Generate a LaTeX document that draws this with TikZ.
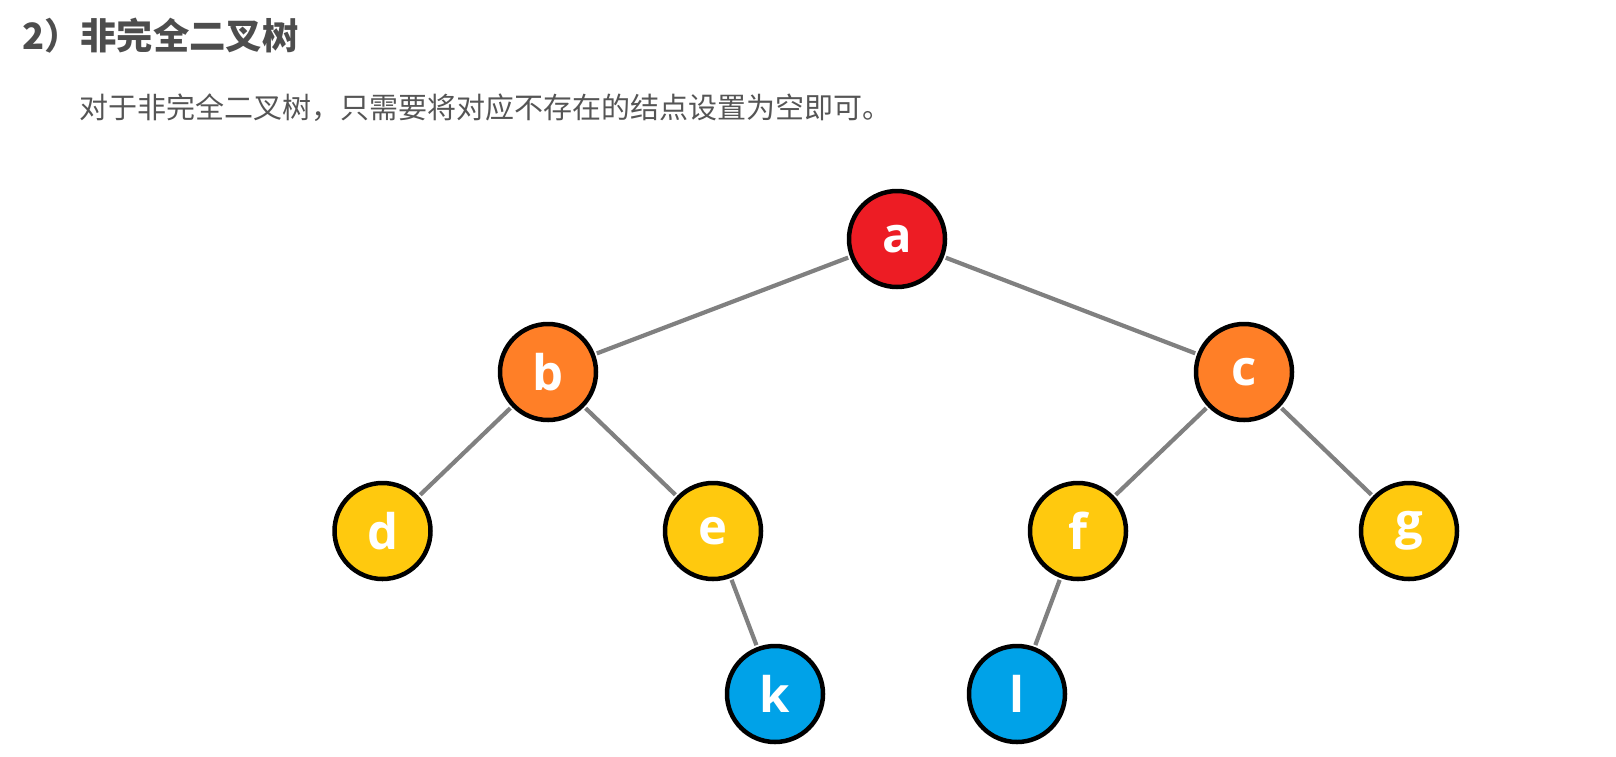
\documentclass[tikz,border=0pt]{standalone}
\usepackage{fontspec}
\setmainfont{Open Sans}
\newfontfamily\cjk{Noto Sans CJK SC}
\definecolor{tred}{HTML}{ED1C24}
\definecolor{torange}{HTML}{FF7F27}
\definecolor{tyellow}{HTML}{FFC90E}
\definecolor{tblue}{HTML}{00A2E8}
\definecolor{tedge}{HTML}{808080}
\definecolor{ttitle}{HTML}{4D4D4D}
\definecolor{tbody}{HTML}{555555}
\tikzset{
  tnode/.style={circle, draw=black, line width=4.5pt, minimum size=96pt, inner sep=0pt,
    text=white, font=\fontsize{49}{49}\selectfont\bfseries},
  tedgeline/.style={draw=tedge, line width=4.2pt},
}
\begin{document}
\begin{tikzpicture}[x=1pt,y=-1pt]
\useasboundingbox (0,0) rectangle (1616,756);
\fill[white] (0,0) rectangle (1616,756);
\node[anchor=west, inner sep=0pt, text=ttitle, font=\cjk\fontsize{36.3}{36.3}\selectfont\bfseries] (title) at (22,36) {2）非完全二叉树};
\node[anchor=west, inner sep=0pt, text=tbody, font=\cjk\fontsize{29}{29}\selectfont] (body) at (79,108) {对于非完全二叉树，只需要将对应不存在的结点设置为空即可。};
\node[tnode, fill=tred] (a) at (897,239) {a};
\node[tnode, fill=torange] (b) at (548,372) {b};
\node[tnode, fill=torange] (c) at (1244,372) {c};
\node[tnode, fill=tyellow] (d) at (382.5,531) {d};
\node[tnode, fill=tyellow] (e) at (713,531) {e};
\node[tnode, fill=tyellow] (f) at (1078,531) {f};
\node[tnode, fill=tyellow] (g) at (1409,531) {g};
\node[tnode, fill=tblue] (k) at (775,694) {k};
\node[tnode, fill=tblue] (l) at (1017,694) {l};
\begin{scope}[shorten <=2pt, shorten >=2pt]
\draw[tedgeline] (a) -- (b);
\draw[tedgeline] (a) -- (c);
\draw[tedgeline] (b) -- (d);
\draw[tedgeline] (b) -- (e);
\draw[tedgeline] (c) -- (f);
\draw[tedgeline] (c) -- (g);
\draw[tedgeline] (e) -- (k);
\draw[tedgeline] (f) -- (l);
\end{scope}
\end{tikzpicture}
\end{document}
